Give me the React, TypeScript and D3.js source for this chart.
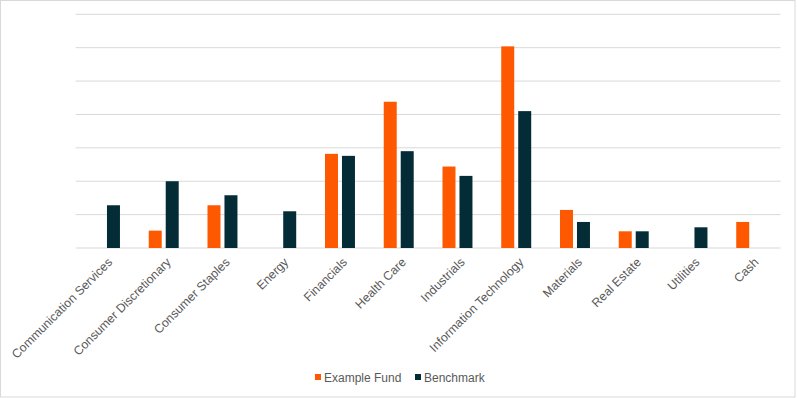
import * as d3 from 'd3';
import React from 'react';

const categories = [
  'Communication Services', 'Consumer Discretionary', 'Consumer Staples', 'Energy',
  'Financials', 'Health Care', 'Industrials', 'Information Technology',
  'Materials', 'Real Estate', 'Utilities', 'Cash'
];
const seriesNames = ['Example Fund', 'Benchmark'];
const fundValues = [0, 2.6, 6.4, 0, 14.1, 21.9, 12.2, 30.2, 5.7, 2.5, 0, 3.9];
const benchmarkValues = [6.4, 10.0, 7.9, 5.5, 13.8, 14.5, 10.8, 20.5, 3.9, 2.5, 3.1, 0];
const gridTicks = [0, 5, 10, 15, 20, 25, 30, 35];

const colors = ['#FE5800', '#032C36'];

const W = 797;
const H = 398;
const left = 75.6, right = 780.6, top = 14.3, bottom = 248;

export default function App() {
  const x0 = d3.scaleBand<string>()
    .domain(categories)
    .range([left, right])
    .paddingInner(0.49)
    .paddingOuter(0.245);
  const x1 = d3.scaleBand<string>()
    .domain(seriesNames)
    .range([0, x0.bandwidth()])
    .paddingInner(0.235);
  const y = d3.scaleLinear().domain([0, 35]).range([bottom, top]);

  const series = [fundValues, benchmarkValues];

  return (
    <svg width={W} height={H} style={{ position: 'absolute', left: 0, top: 0 }}
      fontFamily="'Liberation Sans', Arial, sans-serif">
      <rect x={0} y={0} width={W} height={H} fill="#fff" />
      <rect x={0.5} y={0.5} width={W - 2.5} height={H - 1.5} fill="none" stroke="#D9D9D9" />
      {gridTicks.map(t => (
        <line key={t} x1={left} x2={right} y1={y(t)} y2={y(t)} stroke="#D9D9D9" strokeWidth={1} />
      ))}
      {categories.map((c, i) => (
        <g key={c}>
          {series.map((vals, s) => vals[i] > 0 ? (
            <rect key={s}
              x={(x0(c) as number) + (x1(seriesNames[s]) as number)}
              y={y(vals[i])}
              width={x1.bandwidth()}
              height={y(0) - y(vals[i])}
              fill={colors[s]} />
          ) : null)}
        </g>
      ))}
      {categories.map(c => {
        const cx = (x0(c) as number) + x0.bandwidth() / 2;
        return (
          <text key={c} transform={`translate(${cx + 8},${263}) rotate(-45)`}
            textAnchor="end" fontSize={12.3} fill="#595959">{c}</text>
        );
      })}
      {seriesNames.map((n, s) => {
        const lx = s === 0 ? 315 : 415;
        return (
          <g key={n}>
            <rect x={lx} y={374} width={6} height={6} fill={colors[s]} />
            <text x={lx + 9} y={381.5} fontSize={12} fill="#595959">{n}</text>
          </g>
        );
      })}
    </svg>
  );
}
